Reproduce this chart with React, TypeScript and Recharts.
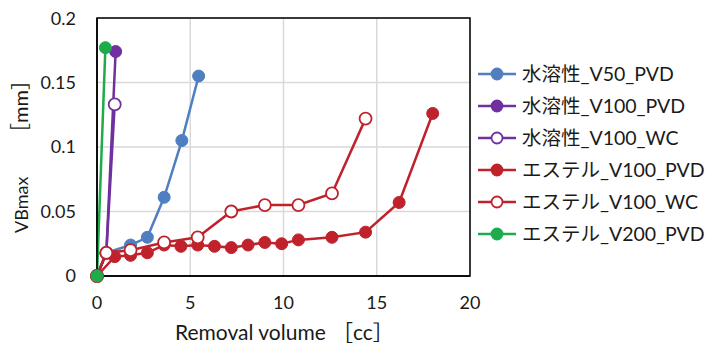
import {
  LineChart, Line, XAxis, YAxis, CartesianGrid, ReferenceArea, Label,
} from "recharts";

type Pt = { x: number; y: number };

// removal volume [cc] / VBmax [mm]
const waterV50Pvd: Pt[] = [
  { x: 0, y: 0 }, { x: 0.5, y: 0.018 }, { x: 1.8, y: 0.024 }, { x: 2.7, y: 0.03 },
  { x: 3.6, y: 0.061 }, { x: 4.55, y: 0.105 }, { x: 5.45, y: 0.155 },
];
const waterV100Pvd: Pt[] = [{ x: 0, y: 0 }, { x: 0.5, y: 0.018 }, { x: 1.0, y: 0.174 }];
const waterV100Wc: Pt[] = [{ x: 0, y: 0 }, { x: 0.5, y: 0.018 }, { x: 0.95, y: 0.133 }];
const esterV100Pvd: Pt[] = [
  { x: 0, y: 0 }, { x: 0.95, y: 0.015 }, { x: 1.8, y: 0.016 }, { x: 2.7, y: 0.018 },
  { x: 3.6, y: 0.024 }, { x: 4.5, y: 0.023 }, { x: 5.4, y: 0.024 }, { x: 6.3, y: 0.023 },
  { x: 7.2, y: 0.022 }, { x: 8.1, y: 0.024 }, { x: 9.0, y: 0.026 }, { x: 9.9, y: 0.025 },
  { x: 10.8, y: 0.028 }, { x: 12.6, y: 0.03 }, { x: 14.4, y: 0.034 }, { x: 16.2, y: 0.057 },
  { x: 18.0, y: 0.126 },
];
const esterV100Wc: Pt[] = [
  { x: 0, y: 0 }, { x: 0.5, y: 0.018 }, { x: 1.8, y: 0.02 }, { x: 3.6, y: 0.026 },
  { x: 5.4, y: 0.03 }, { x: 7.2, y: 0.05 }, { x: 9.0, y: 0.055 }, { x: 10.8, y: 0.055 },
  { x: 12.6, y: 0.064 }, { x: 14.4, y: 0.122 },
];
const esterV200Pvd: Pt[] = [{ x: 0, y: 0 }, { x: 0.45, y: 0.177 }];

const xTicks = [0, 5, 10, 15, 20];
const yTicks = [0, 0.05, 0.1, 0.15, 0.2];

const BLUE = "#4f7fc0";
const PURPLE = "#7030a0";
const RED = "#c0222b";
const GREEN = "#1fab4c";

const SERIES = [
  { name: "水溶性_V50_PVD", color: BLUE, filled: true, data: waterV50Pvd },
  { name: "水溶性_V100_PVD", color: PURPLE, filled: true, data: waterV100Pvd },
  { name: "水溶性_V100_WC", color: PURPLE, filled: false, data: waterV100Wc },
  { name: "エステル_V100_PVD", color: RED, filled: true, data: esterV100Pvd },
  { name: "エステル_V100_WC", color: RED, filled: false, data: esterV100Wc },
  { name: "エステル_V200_PVD", color: GREEN, filled: true, data: esterV200Pvd },
];

const FONT = "Lato, 'Noto Sans CJK JP', sans-serif";
const TEXT = "#1a1a1a";

export default function App() {
  return (
    <div style={{ position: "relative", width: 706, height: 337, fontFamily: FONT }}>
      <LineChart width={706} height={337} margin={{ top: 10, right: 244, bottom: 0, left: 0 }}>
        <CartesianGrid stroke="#d9d9d9" strokeWidth={1.5} />
        <XAxis
          type="number"
          dataKey="x"
          domain={[0, 20]}
          ticks={xTicks}
          height={69}
          tickLine={false}
          tickSize={0}
          tickMargin={20}
          axisLine={{ stroke: "#000", strokeWidth: 1.5 }}
          tick={{ fill: TEXT, fontSize: 18, fontFamily: FONT }}
        >
          <Label
            content={() => (
              <text x={167} y={332} fill={TEXT} fontSize={21} fontFamily={FONT}>
                <tspan x={167}>Removal volume</tspan>
                <tspan x={324}>［cc］</tspan>
              </text>
            )}
          />
        </XAxis>
        <YAxis
          type="number"
          dataKey="y"
          domain={[0, 0.2]}
          ticks={yTicks}
          width={89}
          tickLine={false}
          tickSize={0}
          tickMargin={21}
          axisLine={{ stroke: "#000", strokeWidth: 1.5 }}
          tick={{ fill: TEXT, fontSize: 18, fontFamily: FONT }}
        >
          <Label
            content={() => (
              <text transform="translate(20 225) rotate(-90)" fill={TEXT} fontSize={18} fontFamily={FONT}>
                <tspan x={0}>VBmax</tspan>
                <tspan x={90} fontSize={20}>［mm］</tspan>
              </text>
            )}
          />
        </YAxis>
        <ReferenceArea x1={0} x2={20} y1={0} y2={0.2} fill="none" stroke="#000" strokeWidth={1.5} />
        {SERIES.map((s) => (
          <Line
            key={s.name}
            data={s.data}
            dataKey="y"
            name={s.name}
            stroke={s.color}
            strokeWidth={2.5}
            isAnimationActive={false}
            dot={{ r: 6, fill: s.filled ? s.color : "#fff", stroke: s.color, strokeWidth: s.filled ? 1 : 1.8 }}
          />
        ))}
      </LineChart>
      <div style={{ position: "absolute", left: 470, top: 50 }}>
        {SERIES.map((s) => (
          <div key={s.name} style={{ display: "flex", alignItems: "center", height: 32 }}>
            <svg width={40} height={16} style={{ marginRight: 4 }}>
              <line x1={0} y1={8} x2={38} y2={8} stroke={s.color} strokeWidth={2.5} />
              <circle cx={19} cy={8} r={5.5} fill={s.filled ? s.color : "#fff"} stroke={s.color} strokeWidth={1.8} />
            </svg>
            <span style={{ fontSize: 19.5, lineHeight: "32px", color: TEXT, whiteSpace: "nowrap" }}>{s.name}</span>
          </div>
        ))}
      </div>
    </div>
  );
}
